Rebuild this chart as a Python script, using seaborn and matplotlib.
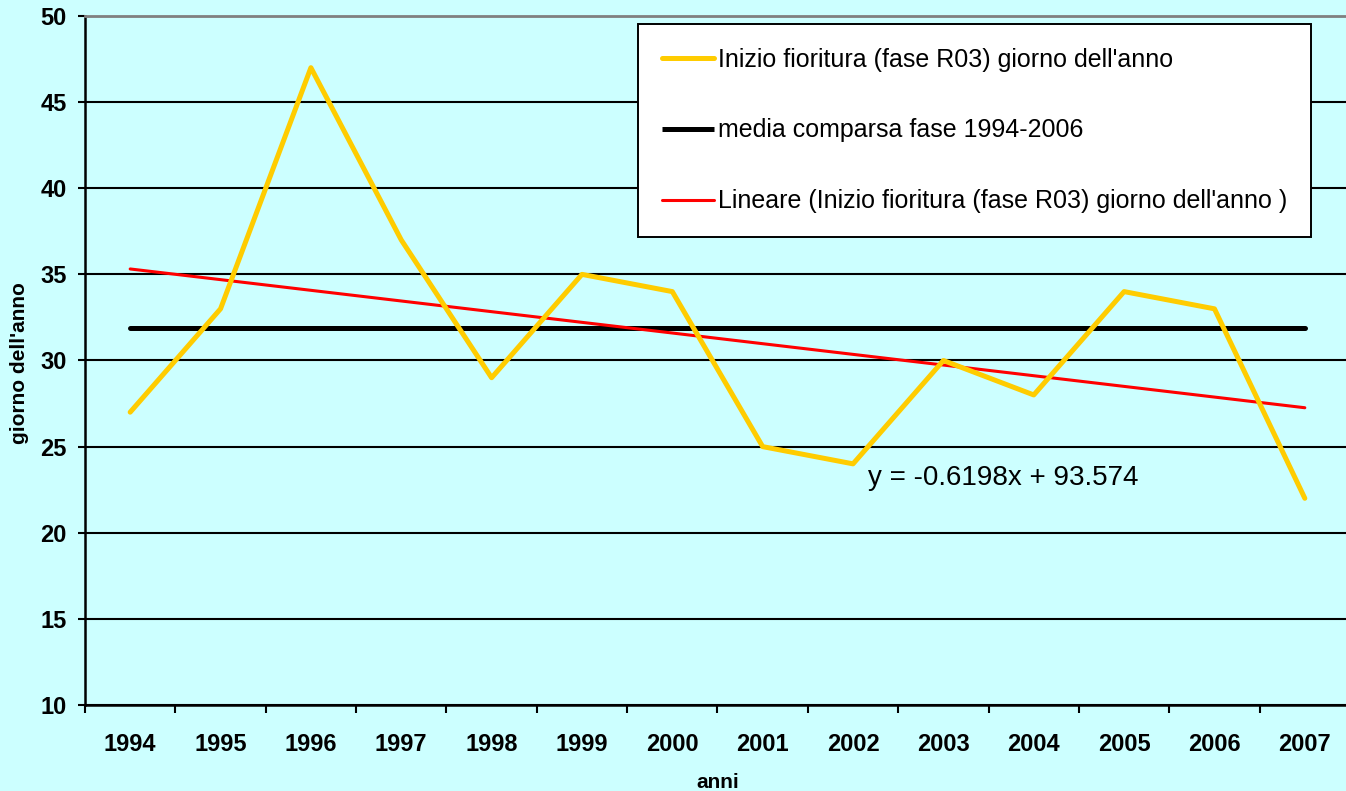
"""
Inizio fioritura (fase R03) - giorno dell'anno 1994-2007
"""
import numpy as np
import pandas as pd
import matplotlib
matplotlib.use('Agg')
import matplotlib.pyplot as plt
import seaborn as sns
from matplotlib.ticker import FixedLocator, MultipleLocator

# ── Dati ─────────────────────────────────────────────────────
anni = [1994, 1995, 1996, 1997, 1998, 1999, 2000,
        2001, 2002, 2003, 2004, 2005, 2006, 2007]
giorno = [27, 33, 47, 37, 29, 35, 34, 25, 24, 30, 28, 34, 33, 22]
media_1994_2006 = 31.9
equazione = "y = -0.6198x + 93.574"

lab_serie = "Inizio fioritura (fase R03) giorno dell'anno"
lab_media = "media comparsa fase 1994-2006"
lab_trend = "Lineare (Inizio fioritura (fase R03) giorno dell'anno )"

df = pd.DataFrame({'anno': anni, 'giorno': giorno})

# ── Stile ────────────────────────────────────────────────────
sns.set_style('white')
plt.rcParams['font.family'] = ['Liberation Sans', 'DejaVu Sans']
plt.rcParams['text.color'] = 'black'
plt.rcParams['axes.labelcolor'] = 'black'
plt.rcParams['xtick.color'] = 'black'
plt.rcParams['ytick.color'] = 'black'
bg = '#CCFFFF'
giallo = '#FFCC00'

W, H = 1346, 791
fig = plt.figure(figsize=(W / 100, H / 100), dpi=100, facecolor=bg)
ax = fig.add_axes([85 / W, 1 - 705 / H, 1265 / W, 689 / H])
ax.set_facecolor(bg)

# serie osservata (sopra le altre linee)
sns.lineplot(data=df, x='anno', y='giorno', ax=ax, color=giallo, lw=3.6,
             label=lab_serie, zorder=6, solid_capstyle='round')
# media 1994-2006
ax.hlines(media_1994_2006, anni[0], anni[-1], color='black', lw=3.6,
          label=lab_media, zorder=4, capstyle='round')
# tendenza lineare
sns.regplot(data=df, x='anno', y='giorno', ax=ax, scatter=False, ci=None,
            truncate=True, color='red',
            line_kws={'lw': 2.2, 'zorder': 5, 'solid_capstyle': 'round'},
            label=lab_trend)

ax.text(2002.17, 23.2, equazione, fontsize=20, color='black',
        ha='left', va='center', zorder=7)

# ── Assi ─────────────────────────────────────────────────────
ax.set_xlim(anni[0] - 0.5, anni[-1] + 0.5)
ax.set_ylim(10, 50)
ax.yaxis.set_major_locator(MultipleLocator(5))
ax.xaxis.set_major_locator(FixedLocator(anni))
ax.xaxis.set_minor_locator(FixedLocator([a - 0.5 for a in anni] + [anni[-1] + 0.5]))
ax.set_xticklabels([str(a) for a in anni])
ax.tick_params(axis='x', which='major', length=0, pad=20, labelsize=17)
ax.tick_params(axis='x', which='minor', length=6, width=1.5, color='black',
               direction='out', bottom=True)
ax.tick_params(axis='y', length=5, width=1.5, color='black', direction='out',
               left=True, pad=8, labelsize=17)
for lbl in ax.get_xticklabels() + ax.get_yticklabels():
    lbl.set_fontweight('bold')

ax.grid(axis='y', color='black', lw=1.5)
ax.grid(axis='x', visible=False)
ax.set_axisbelow(True)
for s in ['left', 'bottom']:
    ax.spines[s].set_color('black')
    ax.spines[s].set_linewidth(1.8)
ax.spines['top'].set_color('#808080')
ax.spines['top'].set_linewidth(2)
ax.spines['top'].set_zorder(8)
ax.spines['right'].set_visible(False)

ax.set_xlabel('anni', fontsize=15, fontweight='bold')
ax.set_ylabel("giorno dell'anno", fontsize=15, fontweight='bold')
ax.xaxis.set_label_coords(0.5, -(773 - 705) / 689)
ax.yaxis.set_label_coords((29 - 85) / 1265, 0.497)

# ── Legenda ──────────────────────────────────────────────────
leg = ax.legend(loc='upper left', bbox_to_anchor=(638 / W, 1 - 24 / H),
                bbox_transform=fig.transFigure, frameon=True, fancybox=False,
                framealpha=1, facecolor='white', edgecolor='black',
                prop={'family': ['Liberation Sans Narrow', 'Liberation Sans'], 'size': 18},
                handlelength=2.1, handletextpad=0.15, labelspacing=1.87,
                borderpad=0.95, borderaxespad=0)
leg.get_frame().set_linewidth(1.4)
leg.set_zorder(10)
for t in leg.get_texts():
    t.set_color('black')

plt.savefig('out.png', dpi=100, facecolor=bg)
